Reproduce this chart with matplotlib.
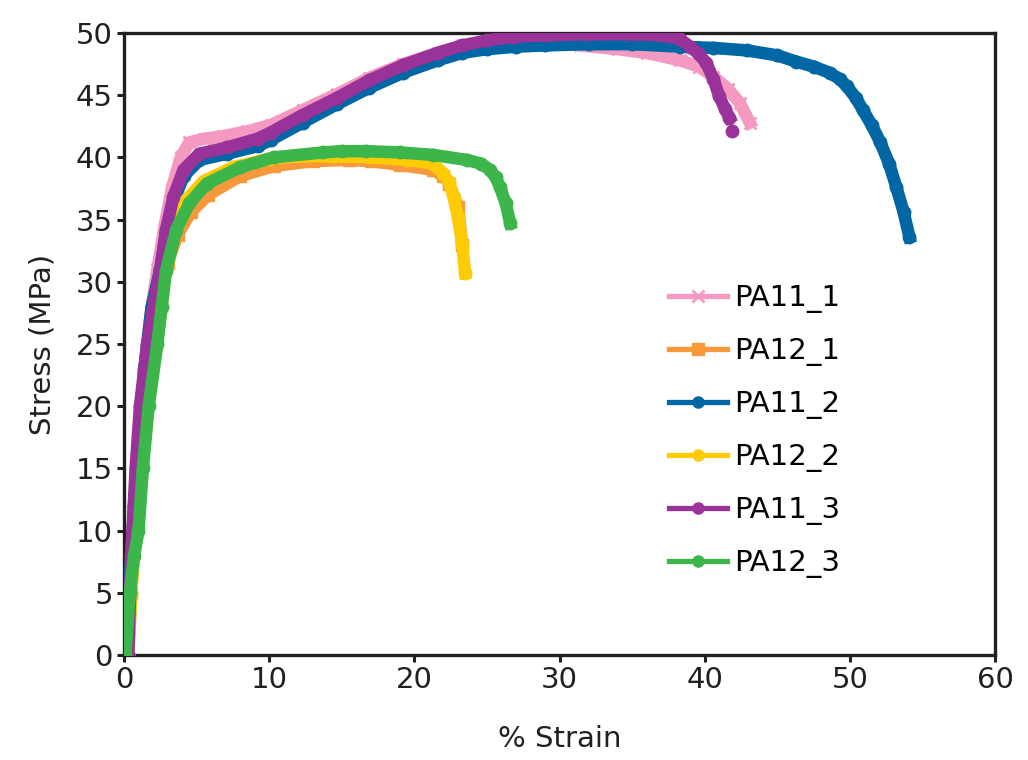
import numpy as np
import matplotlib
matplotlib.use("Agg")
import matplotlib.pyplot as plt

# strain (%) / stress (MPa)
pa11_1_x = [0.2, 0.4, 0.7, 1.0, 1.4, 1.8, 2.3, 2.8, 3.3, 3.9, 4.5, 5.5, 6.8, 8.5, 10.1, 12.3, 14.7, 16.9,
            19.2, 21.6, 23.3, 25.0, 27.0, 29.0, 31.4, 34.0, 36.0, 38.3, 39.6, 40.6, 41.6, 42.4, 43.1]
pa11_1_y = [0.0, 6.0, 12.0, 17.0, 23.0, 27.0, 31.0, 34.5, 37.5, 40.0, 41.2, 41.5, 41.7, 42.1, 42.6, 43.8, 45.1, 46.4,
            47.5, 48.4, 49.0, 49.3, 49.5, 49.4, 49.0, 48.7, 48.4, 47.8, 47.3, 46.5, 45.5, 44.4, 42.8]

pa12_1_x = [0.3, 0.5, 0.8, 1.1, 1.5, 2.0, 2.5, 3.0, 3.7, 4.6, 5.8, 8.0, 10.3, 13.0, 15.5, 17.0, 19.0, 21.3,
            22.0, 22.4, 23.0, 23.3]
pa12_1_y = [0.0, 5.0, 10.0, 15.0, 20.0, 25.0, 28.5, 31.5, 33.8, 35.6, 37.0, 38.5, 39.3, 39.7, 39.8, 39.7, 39.4, 39.0,
            38.5, 37.9, 36.0, 33.0]

pa11_2_x = [0.2, 0.4, 0.7, 1.0, 1.4, 1.9, 2.5, 2.9, 3.4, 4.1, 5.2, 7.1, 9.2, 10.1, 12.3, 14.7, 16.9, 19.2, 21.6,
            23.3, 25.0, 27.0, 29.0, 32.0, 35.0, 38.3, 40.6, 42.9, 45.0, 46.3, 47.5, 48.6, 49.3, 49.8, 50.4,
            50.9, 51.5, 52.1, 52.7, 53.2, 53.7, 54.1]
pa11_2_y = [0.0, 6.0, 12.0, 17.0, 23.0, 28.0, 31.0, 34.0, 36.4, 38.5, 39.8, 40.3, 40.9, 41.4, 42.8, 44.3, 45.6, 46.8, 47.8,
            48.4, 48.7, 48.9, 49.0, 49.1, 49.1, 48.9, 48.8, 48.6, 48.2, 47.7, 47.3, 46.8, 46.3, 45.7, 44.8,
            43.8, 42.6, 41.2, 39.5, 37.6, 35.6, 33.6]

pa12_2_x = [0.3, 0.5, 0.8, 1.1, 1.5, 2.0, 2.5, 3.0, 3.5, 4.3, 5.5, 7.5, 10.0, 12.0, 14.4, 17.0, 19.5, 21.3,
            22.0, 22.4, 22.7, 23.0, 23.3, 23.5]
pa12_2_y = [0.0, 5.0, 10.0, 15.0, 20.0, 25.0, 29.0, 32.0, 34.6, 36.6, 38.1, 39.2, 39.9, 40.1, 40.1, 40.0, 39.8, 39.5,
            38.7, 38.0, 36.8, 35.2, 33.0, 30.7]

pa11_3_x = [0.3, 0.5, 0.8, 1.1, 1.6, 2.1, 2.5, 2.9, 3.4, 4.1, 5.2, 7.1, 9.2, 10.1, 12.3, 14.7, 16.9, 19.2,
            21.6, 23.3, 25.0, 26.8, 29.0, 32.0, 35.0, 37.0, 38.3, 39.0, 39.6, 40.1, 40.6, 41.0, 41.4, 41.7]
pa11_3_y = [0.0, 8.0, 15.0, 20.0, 25.0, 28.5, 30.9, 34.2, 36.8, 39.0, 40.3, 40.8, 41.5, 42.0, 43.4, 44.8, 46.2, 47.4,
            48.4, 49.0, 49.4, 49.7, 49.8, 49.9, 49.9, 49.8, 49.5, 48.9, 48.3, 47.6, 46.3, 44.9, 43.9, 43.2]
pa11_3_end_x = [41.9]
pa11_3_end_y = [42.1]

pa12_3_x = [0.1, 0.4, 0.7, 1.0, 1.3, 1.7, 2.3, 2.6, 2.9, 3.6, 4.5, 5.7, 8.0, 10.3, 13.7, 15.0, 16.7, 19.0,
            21.3, 23.6, 24.6, 25.2, 25.6, 25.9, 26.3, 26.6]
pa12_3_y = [0.0, 5.0, 8.0, 10.0, 15.0, 20.0, 25.0, 28.0, 30.9, 34.2, 36.3, 37.9, 39.2, 40.0, 40.4, 40.5, 40.5, 40.4,
            40.2, 39.8, 39.5, 39.0, 38.4, 37.6, 36.3, 34.7]

plt.rcParams['font.family'] = ['DejaVu Sans']
ink = '#231f20'

fig = plt.figure(figsize=(10.28, 7.6), dpi=100)
ax = fig.add_axes([0.1206, 0.138, 0.8474, 0.8186])

lw = 9
ms = 9
ax.plot(pa11_1_x, pa11_1_y, color='#f49ac1', lw=lw, marker='x', ms=ms, mew=2, label='PA11_1', zorder=2)
ax.plot(pa12_1_x, pa12_1_y, color='#f7993a', lw=lw, marker='s', ms=ms - 1, label='PA12_1', zorder=2)
ax.plot(pa11_2_x, pa11_2_y, color='#0066a4', lw=lw, marker='o', ms=ms, label='PA11_2', zorder=3)
ax.plot(pa12_2_x, pa12_2_y, color='#ffcb05', lw=lw, marker='o', ms=ms, label='PA12_2', zorder=4)
ax.plot(pa11_3_x, pa11_3_y, color='#993399', lw=lw, marker='o', ms=ms, label='PA11_3', zorder=5)
ax.plot(pa11_3_end_x, pa11_3_end_y, color='#993399', lw=0, marker='o', ms=ms, zorder=5)
ax.plot(pa12_3_x, pa12_3_y, color='#3cb54a', lw=lw, marker='o', ms=ms, label='PA12_3', zorder=6)

ax.set_xlim(0, 60)
ax.set_ylim(0, 50)
ax.set_xticks(np.arange(0, 61, 10))
ax.set_yticks(np.arange(0, 51, 5))
for s in ax.spines.values():
    s.set_linewidth(2.4)
    s.set_color(ink)
ax.tick_params(direction='out', length=5, width=2.2, labelsize=21, colors=ink, pad=3)
ax.set_xlabel('% Strain', fontsize=21, color=ink, labelpad=22)
ax.set_ylabel('Stress (MPa)', fontsize=21, color=ink, labelpad=14)

leg = ax.legend(loc='upper left', bbox_to_anchor=(0.612, 0.615), frameon=False, fontsize=21,
                handlelength=2.0, labelspacing=0.82, handletextpad=0.25, borderaxespad=0)
for h in leg.get_lines():
    h.set_linewidth(3.8)
    h.set_markersize(8)

fig.savefig('out.png', dpi=100)
